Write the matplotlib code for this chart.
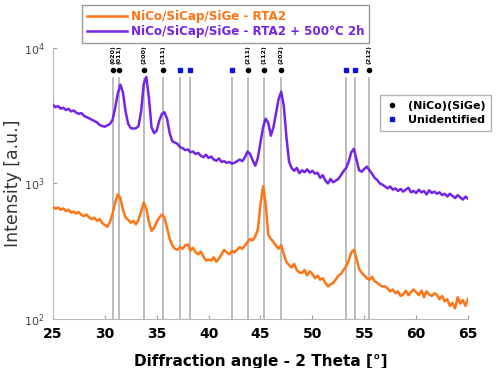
import numpy as np
import matplotlib.pyplot as plt

# intensitet, 4 verdier per grad (25.00, 25.25, 25.50, 25.75 ...), til slutt 65
purple = [
    3800, 3650, 3720, 3560,  # 25
    3620, 3480, 3550, 3400,  # 26
    3450, 3330, 3260, 3300,  # 27
    3150, 3080, 3020, 2950,  # 28
    2880, 2820, 2700, 2650,  # 29
    2620, 2680, 2750, 2950,  # 30
    3600, 4600, 5350, 4700,  # 31
    3400, 2750, 2560, 2540,  # 32
    2550, 2650, 3400, 5400,  # 33
    6100, 4300, 2600, 2350,  # 34
    2450, 2900, 3250, 3350,  # 35
    3000, 2350, 2050, 2000,  # 36
    1960, 1850, 1820, 1760,  # 37
    1780, 1700, 1720, 1650,  # 38
    1680, 1600, 1560, 1630,  # 39
    1540, 1580, 1500, 1470,  # 40
    1530, 1440, 1460, 1420,  # 41
    1440, 1400, 1420, 1460,  # 42
    1500, 1460, 1560, 1720,  # 43
    1650, 1480, 1350, 1550,  # 44
    2000, 2600, 3000, 2800,  # 45
    2250, 2600, 3300, 4200,  # 46
    4750, 3700, 2200, 1450,  # 47
    1300, 1240, 1300, 1190,  # 48
    1250, 1210, 1270, 1200,  # 49
    1240, 1180, 1200, 1100,  # 50
    1150, 1050, 1000, 1080,  # 51
    1020, 1050, 1080, 1150,  # 52
    1230, 1300, 1450, 1700,  # 53
    1800, 1500, 1250, 1220,  # 54
    1280, 1330, 1250, 1180,  # 55
    1100, 1060, 1000, 980,   # 56
    950, 920, 950, 900,      # 57
    920, 880, 910, 870,      # 58
    900, 930, 860, 880,      # 59
    850, 900, 860, 880,      # 60
    830, 890, 850, 870,      # 61
    840, 860, 820, 840,      # 62
    800, 840, 810, 780,      # 63
    820, 790, 760, 800,      # 64
    770,                     # 65
]

orange = [
    676, 650, 665, 640,  # 25
    655, 625, 640, 610,  # 26
    620, 600, 615, 585,  # 27
    575, 590, 560, 545,  # 28
    560, 530, 545, 510,  # 29
    495, 480, 520, 600,  # 30
    720, 830, 780, 640,  # 31
    560, 540, 513, 530,  # 32
    500, 540, 620, 725,  # 33
    650, 520, 447, 470,  # 34
    520, 560, 590, 560,  # 35
    470, 390, 350, 330,  # 36
    324, 340, 330, 350,  # 37
    355, 320, 335, 310,  # 38
    300, 315, 290, 270,  # 39
    275, 270, 285, 265,  # 40
    280, 300, 324, 310,  # 41
    300, 318, 310, 325,  # 42
    340, 330, 347, 370,  # 43
    390, 380, 407, 460,  # 44
    700, 955, 700, 420,  # 45
    390, 370, 347, 330,  # 46
    350, 300, 263, 250,  # 47
    240, 255, 230, 220,  # 48
    219, 230, 210, 225,  # 49
    215, 200, 209, 195,  # 50
    200, 185, 174, 180,  # 51
    185, 195, 209, 215,  # 52
    230, 245, 270, 310,  # 53
    324, 280, 234, 220,  # 54
    210, 200, 195, 205,  # 55
    190, 185, 178, 174,  # 56
    174, 168, 160, 165,  # 57
    155, 160, 148, 152,  # 58
    162, 150, 158, 165,  # 59
    158, 150, 162, 145,  # 60
    160, 152, 148, 155,  # 61
    151, 140, 148, 135,  # 62
    140, 125, 132, 120,  # 63
    145, 130, 138, 125,  # 64
    141,                 # 65
]

two_theta = np.linspace(25, 65, len(purple))

# topper (NiCo)(SiGe) og uidentifiserte
nico_pos = [30.75, 31.4, 33.8, 35.6, 43.8, 45.3, 47.0, 55.5]
nico_lab = ["(020)", "(011)", "(200)", "(111)", "(211)", "(112)", "(202)", "(212)"]
unid_pos = [37.2, 38.2, 42.3, 53.2, 54.1]

c_or = "#FF7414"
c_pu = "#7424E6"

fig = plt.figure(figsize=(4.99, 3.68), dpi=100)
ax = fig.add_axes([0.106, 0.133, 0.832, 0.737])

tr = ax.get_xaxis_transform()
for p in nico_pos + unid_pos:
    ax.plot([p, p], [0, 0.889], transform=tr, color="#B0B0B0", lw=1.2, zorder=1)

l1, = ax.plot(two_theta, orange, color=c_or, lw=1.8, zorder=3)
l2, = ax.plot(two_theta, purple, color=c_pu, lw=1.8, zorder=3)

m1, = ax.plot(nico_pos, [0.919] * len(nico_pos), "o", color="black", ms=3,
              transform=tr, clip_on=False, linestyle="none")
m2, = ax.plot(unid_pos, [0.919] * len(unid_pos), "s", color="#0A14D8", ms=3.5,
              transform=tr, clip_on=False, linestyle="none")
for p, lab in zip(nico_pos, nico_lab):
    ax.text(p, 0.94, lab, transform=tr, rotation=90, ha="center", va="bottom",
            fontsize=4.6, fontweight="bold", clip_on=False)

ax.set_yscale("log")
ax.set_ylim(100, 10000)
ax.set_xlim(25, 65)
ax.set_xticks(range(25, 66, 5))
ax.minorticks_off()
for s in ["top", "right"]:
    ax.spines[s].set_visible(False)
for s in ["left", "bottom"]:
    ax.spines[s].set_color("#B8B8B8")
ax.tick_params(direction="in", length=3, color="#A0A0A0")
ax.tick_params(axis="x", labelsize=10, pad=6)
ax.tick_params(axis="y", labelsize=8, labelcolor="#444444", pad=6)
for t in ax.get_xticklabels():
    t.set_fontweight("bold")

ax.set_xlabel("Diffraction angle - 2 Theta [°]", fontsize=11, fontweight="bold", labelpad=9)
ax.set_ylabel("Intensity [a.u.]", fontsize=12.5, color="#333333", labelpad=1)

leg1 = fig.legend([l1, l2], ["NiCo/SiCap/SiGe - RTA2", "NiCo/SiCap/SiGe - RTA2 + 500°C 2h"],
                  loc="upper left", bbox_to_anchor=(82 / 499, 1 - 5 / 368),
                  prop={"size": 8.6, "weight": "bold"}, fancybox=False, edgecolor="#808080",
                  handlelength=3.4, handletextpad=0.3, borderpad=0.4, labelspacing=0.2,
                  borderaxespad=0)
leg1.get_texts()[0].set_color(c_or)
leg1.get_texts()[1].set_color(c_pu)

leg2 = fig.legend([m1, m2], ["(NiCo)(SiGe)", "Unidentified"], loc="upper left",
                  bbox_to_anchor=(380 / 499, 1 - 95 / 368), prop={"size": 8, "weight": "bold"},
                  fancybox=False, edgecolor="#A0A0A0", handlelength=1.2, borderaxespad=0,
                  borderpad=0.5, labelspacing=0.4)

fig.savefig("out.png", dpi=100)
